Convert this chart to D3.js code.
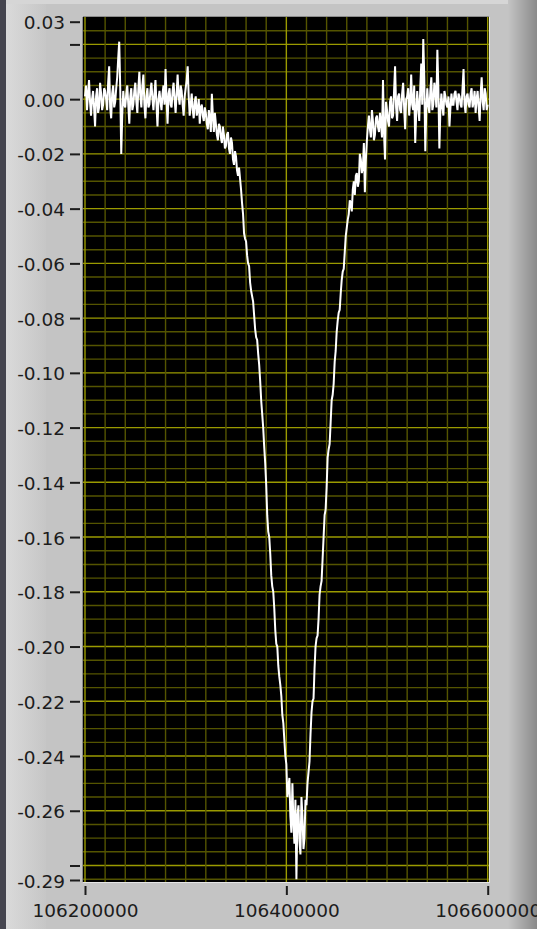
<!DOCTYPE html>
<html>
<head>
<meta charset="utf-8">
<script src="https://cdn.jsdelivr.net/npm/d3@7"></script>
<style>
  body { margin: 0; background: #c4c4c4; }
  svg { display: block; }
  .tick text { font-family: "DejaVu Sans", sans-serif; font-size: 18.5px; fill: #1c1c1c; }
</style>
</head>
<body>
<script>
// waveform: x0 + dx, amplitude
var freqStart = 106200000;
var freqStep = 1000;
var amplitude = [
  0.001, 0.005, -0.004, 0.002, 0.007, -0.001, -0.006, 0.000, 0.003, -0.003, -0.010, 0.001, 0.004, -0.005, -0.003, 0.006, 0.002, -0.004, -0.002, 0.004,
  0.003, 0.000, -0.004, 0.006, 0.012, -0.003, -0.007, 0.002, 0.005, -0.003, -0.001, 0.004, 0.008, 0.015, 0.021, 0.004, -0.020, -0.006, 0.003, -0.002,
  -0.003, 0.002, 0.005, -0.002, -0.009, 0.001, 0.004, -0.004, -0.002, 0.003, 0.006, -0.001, -0.005, 0.004, 0.010, 0.001, -0.003, 0.005, 0.009, -0.002,
  -0.007, 0.001, 0.004, -0.003, -0.002, 0.003, 0.006, 0.000, -0.004, 0.002, 0.007, -0.002, -0.010, 0.000, 0.003, -0.001, -0.004, 0.002, 0.005, -0.002,
  0.011, 0.000, -0.009, 0.002, 0.004, -0.002, -0.003, 0.003, 0.006, 0.000, -0.005, 0.002, 0.009, 0.001, -0.002, 0.005, 0.003, -0.002, -0.006, 0.001,
  0.004, 0.007, 0.012, 0.001, -0.006, -0.002, 0.002, -0.004, -0.007, -0.001, 0.001, -0.006, -0.004, 0.000, -0.009, -0.003, -0.002, -0.006, -0.008, -0.003,
  -0.005, -0.009, -0.011, -0.004, -0.007, -0.012, 0.002, -0.006, -0.012, -0.005, -0.009, -0.013, -0.015, -0.009, -0.010, -0.014, -0.016, -0.010, -0.013, -0.018,
  -0.017, -0.013, -0.012, -0.018, -0.020, -0.014, -0.016, -0.022, -0.024, -0.019, -0.021, -0.026, -0.028, -0.025, -0.029, -0.033, -0.038, -0.042, -0.049, -0.051,
  -0.052, -0.057, -0.060, -0.061, -0.067, -0.070, -0.072, -0.074, -0.079, -0.084, -0.087, -0.088, -0.093, -0.097, -0.103, -0.110, -0.115, -0.120, -0.127, -0.133,
  -0.141, -0.152, -0.158, -0.160, -0.166, -0.174, -0.178, -0.180, -0.186, -0.194, -0.199, -0.200, -0.207, -0.211, -0.214, -0.218, -0.225, -0.228, -0.234, -0.240,
  -0.243, -0.255, -0.252, -0.248, -0.262, -0.268, -0.250, -0.264, -0.272, -0.256, -0.285, -0.262, -0.258, -0.271, -0.276, -0.255, -0.262, -0.274, -0.270, -0.256,
  -0.258, -0.250, -0.246, -0.242, -0.232, -0.224, -0.220, -0.219, -0.208, -0.200, -0.197, -0.196, -0.190, -0.181, -0.178, -0.176, -0.168, -0.160, -0.152, -0.150,
  -0.142, -0.131, -0.128, -0.126, -0.118, -0.110, -0.108, -0.104, -0.096, -0.092, -0.085, -0.081, -0.078, -0.077, -0.071, -0.066, -0.063, -0.062, -0.056, -0.050,
  -0.047, -0.044, -0.042, -0.037, -0.038, -0.041, -0.033, -0.030, -0.035, -0.028, -0.027, -0.032, -0.030, -0.020, -0.022, -0.027, -0.025, -0.016, -0.034, -0.022,
  -0.015, -0.010, -0.006, -0.011, -0.014, -0.004, -0.008, -0.015, -0.013, -0.007, -0.006, -0.010, -0.012, -0.005, -0.009, -0.014, 0.007, -0.012, -0.022, -0.001,
  -0.004, -0.008, -0.010, -0.001, 0.001, -0.007, -0.006, 0.003, 0.012, -0.003, -0.008, 0.001, 0.002, -0.004, -0.005, 0.002, 0.006, -0.003, -0.011, 0.000,
  0.001, 0.004, -0.006, -0.001, 0.009, -0.002, -0.004, 0.005, -0.016, -0.005, 0.003, -0.003, -0.008, 0.004, 0.013, -0.002, 0.022, 0.008, -0.019, -0.004,
  0.004, -0.002, -0.005, 0.003, 0.008, -0.004, -0.002, 0.006, 0.003, -0.003, 0.018, 0.004, -0.018, -0.004, 0.002, -0.003, -0.006, 0.003, 0.001, -0.002,
  -0.003, 0.001, -0.010, -0.003, 0.002, -0.002, -0.002, 0.002, 0.003, -0.001, -0.004, 0.002, 0.001, -0.002, -0.003, 0.004, 0.011, -0.002, -0.005, 0.001,
  0.002, -0.002, -0.003, 0.002, 0.004, -0.003, -0.001, 0.003, -0.005, 0.000, 0.003, -0.003, -0.008, 0.002, 0.008, -0.001, -0.004, 0.004, 0.002, -0.004,
  -0.002
];

// scale range and labels
var yMax = 0.0283;
var yMin = -0.2853;
var yEndLabels = ["0.03", "-0.29"];
var yTicks = [0.02, 0, -0.02, -0.04, -0.06, -0.08, -0.10, -0.12, -0.14, -0.16, -0.18, -0.20, -0.22, -0.24, -0.26, -0.28];
var yHidden = [0.02, -0.28];
var xTicks = [106200000, 106400000, 106600000];

var width = 537, height = 929;
var plot = { left: 83, right: 489, top: 17, bottom: 882 };

var svg = d3.select("body").append("svg")
    .attr("width", width)
    .attr("height", height);

var defs = svg.append("defs");
var gr = defs.append("linearGradient").attr("id", "rightShade");
gr.append("stop").attr("offset", "0%").attr("stop-color", "#c4c4c4");
gr.append("stop").attr("offset", "100%").attr("stop-color", "#8a8a8a");
var gl = defs.append("linearGradient").attr("id", "leftShade");
gl.append("stop").attr("offset", "0%").attr("stop-color", "#dadada");
gl.append("stop").attr("offset", "100%").attr("stop-color", "#c6c6c6");

// panel
svg.append("rect").attr("width", width).attr("height", height).attr("fill", "#c4c4c4");
svg.append("rect").attr("x", 6).attr("y", 0).attr("width", 40).attr("height", height).attr("fill", "url(#leftShade)");
svg.append("rect").attr("x", 0).attr("y", 0).attr("width", 6).attr("height", height).attr("fill", "#45454f");
svg.append("rect").attr("x", 6).attr("y", 0).attr("width", width).attr("height", 4).attr("fill", "#d6d6d6");
svg.append("rect").attr("x", 508).attr("y", 0).attr("width", 29).attr("height", height).attr("fill", "url(#rightShade)");

var x = d3.scaleLinear()
    .domain([xTicks[0], xTicks[xTicks.length - 1]])
    .range([85, 487.7]);

var y = d3.scaleLinear()
    .domain([yMin, yMax])
    .range([880, 21.7]);

// plot area
svg.append("rect")
    .attr("x", plot.left).attr("y", plot.top)
    .attr("width", plot.right - plot.left).attr("height", plot.bottom - plot.top)
    .attr("fill", "#000");

var grid = svg.append("g");

// minor grid every 0.005 / 20000 Hz, major on labelled values
var yMinor = d3.range(-57, 6).map(function (k) { return k * 0.005; })
    .filter(function (v) { return y(v) >= plot.top && y(v) <= plot.bottom; });
var xMinor = d3.range(0, 21).map(function (k) { return xTicks[0] + k * 20000; });

grid.selectAll(".hminor").data(yMinor).enter().append("line")
    .attr("x1", plot.left).attr("x2", plot.right)
    .attr("y1", function (d) { return y(d); }).attr("y2", function (d) { return y(d); })
    .attr("stroke", function (d) { return Math.abs(Math.round(d * 1000)) % 20 === 0 ? "#9a9a00" : "#545400"; })
    .attr("stroke-width", 1.4);

grid.selectAll(".vminor").data(xMinor).enter().append("line")
    .attr("y1", plot.top).attr("y2", plot.bottom)
    .attr("x1", function (d) { return x(d); }).attr("x2", function (d) { return x(d); })
    .attr("stroke", function (d) { return xTicks.indexOf(d) >= 0 ? "#9a9a00" : "#545400"; })
    .attr("stroke-width", 1.4);

// trace
var line = d3.line()
    .x(function (d, i) { return x(freqStart + i * freqStep); })
    .y(function (d) { return y(d); });

svg.append("path")
    .datum(amplitude)
    .attr("fill", "none")
    .attr("stroke", "#fff")
    .attr("stroke-width", 2)
    .attr("d", line);

// plot frame
svg.append("line").attr("x1", plot.left).attr("x2", plot.right + 1).attr("y1", plot.bottom + 0.5).attr("y2", plot.bottom + 0.5).attr("stroke", "#e6e6e6");
svg.append("line").attr("x1", plot.right + 0.5).attr("x2", plot.right + 0.5).attr("y1", plot.top).attr("y2", plot.bottom).attr("stroke", "#e6e6e6");
svg.append("line").attr("x1", plot.left - 0.5).attr("x2", plot.left - 0.5).attr("y1", plot.top).attr("y2", plot.bottom).attr("stroke", "#8c8c8c");
svg.append("line").attr("x1", plot.left).attr("x2", plot.right).attr("y1", plot.top - 0.5).attr("y2", plot.top - 0.5).attr("stroke", "#8c8c8c");

// y axis
var yAxisValues = [yMax].concat(yTicks).concat([yMin]);
var yAxis = svg.append("g")
    .attr("transform", "translate(80,0)")
    .call(d3.axisLeft(y)
        .tickValues(yAxisValues)
        .tickSize(10)
        .tickPadding(5)
        .tickFormat(function (d) {
            if (d === yMax) return yEndLabels[0];
            if (d === yMin) return yEndLabels[1];
            if (yHidden.indexOf(d) >= 0) return "";
            return d.toFixed(2).replace("-0.00", "0.00");
        }));
yAxis.select(".domain").remove();
yAxis.selectAll(".tick line").attr("stroke", "#1c1c1c").attr("stroke-width", 2);
yAxis.selectAll(".tick text").attr("dy", "0.38em");

// x axis
var xAxis = svg.append("g")
    .attr("transform", "translate(0,886)")
    .call(d3.axisBottom(x)
        .tickValues(xTicks)
        .tickSize(9)
        .tickPadding(9)
        .tickFormat(d3.format("d")));
xAxis.select(".domain").remove();
xAxis.selectAll(".tick line").attr("stroke", "#1c1c1c").attr("stroke-width", 2);
</script>
</body>
</html>
